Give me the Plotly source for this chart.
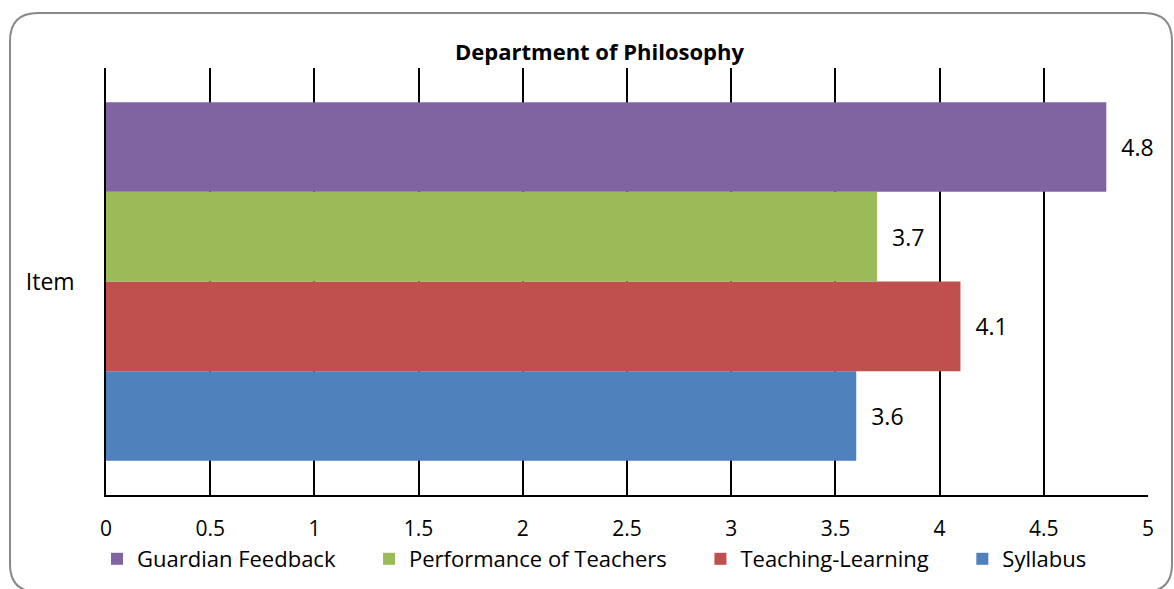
import plotly.graph_objects as go

categories = ["Item"]
series_names = ["Syllabus", "Teaching-Learning", "Performance of Teachers", "Guardian Feedback"]
series_values = [[3.6], [4.1], [3.7], [4.8]]
series_colors = ["#4F81BD", "#C0504D", "#9BBB59", "#8064A2"]
x_ticks = [0, 0.5, 1, 1.5, 2, 2.5, 3, 3.5, 4, 4.5, 5]
x_tick_labels = ["0", "0.5", "1", "1.5", "2", "2.5", "3", "3.5", "4", "4.5", "5"]

W, H = 1174, 589
L, R, T, B = 106, 1148, 68, 495
FONT = "Open Sans"
NB = "\u00a0"

fig = go.Figure()
for name, vals, col in zip(series_names, series_values, series_colors):
    fig.add_trace(go.Bar(
        y=categories, x=vals, name=name + NB * 5, orientation="h",
        marker=dict(color=col, line=dict(width=0)),
        text=[str(v) for v in vals], texttemplate=NB * 2 + "%{text}",
        textposition="outside",
        textfont=dict(size=23, color="#000000", family=FONT),
        cliponaxis=False,
    ))

def px(x):
    return (x - L) / (R - L)

def py(y):
    return (B - y) / (B - T)

# rounded frame
x0, y0, x1, y1, r = 10, 13, 1172, 592, 28
path = (f"M {px(x0+r)},{py(y0)} L {px(x1-r)},{py(y0)} "
        f"Q {px(x1)},{py(y0)} {px(x1)},{py(y0+r)} "
        f"L {px(x1)},{py(y1-r)} Q {px(x1)},{py(y1)} {px(x1-r)},{py(y1)} "
        f"L {px(x0+r)},{py(y1)} Q {px(x0)},{py(y1)} {px(x0)},{py(y1-r)} "
        f"L {px(x0)},{py(y0+r)} Q {px(x0)},{py(y0)} {px(x0+r)},{py(y0)} Z")

fig.update_layout(
    width=W, height=H,
    margin=dict(l=L, r=W - R, t=T, b=H - B, pad=0, autoexpand=False),
    paper_bgcolor="white", plot_bgcolor="white",
    barmode="group", bargap=0.16, bargroupgap=0,
    font=dict(family=FONT, size=22, color="#000000"),
    showlegend=True,
    legend=dict(orientation="h", traceorder="reversed", x=px(97), xanchor="left",
                y=py(538), yanchor="top", font=dict(size=22, family=FONT),
                itemwidth=30, bgcolor="rgba(0,0,0,0)", tracegroupgap=0),
    xaxis=dict(range=[0, 5], tickvals=x_ticks, ticktext=x_tick_labels,
               showgrid=True, gridcolor="#000000", gridwidth=1.5,
               showline=True, linecolor="#000000", linewidth=1.5,
               ticks="", ticklabelstandoff=14, zeroline=False,
               tickfont=dict(size=21, family=FONT)),
    yaxis=dict(showline=True, linecolor="#000000", linewidth=1.5, ticks="",
               ticklabelstandoff=25, tickfont=dict(size=23, family=FONT),
               showgrid=False),
    annotations=[dict(text="<b>Department of Philosophy</b>", x=px(599), y=py(51),
                      xref="paper", yref="paper", showarrow=False,
                      xanchor="center", yanchor="middle",
                      font=dict(size=22, family=FONT))],
    shapes=[dict(type="path", path=path, xref="paper", yref="paper",
                 line=dict(color="#888888", width=2), layer="below")],
)

fig.write_html("out.html", config={"displayModeBar": False},
               post_script="document.body.style.margin='0';")
